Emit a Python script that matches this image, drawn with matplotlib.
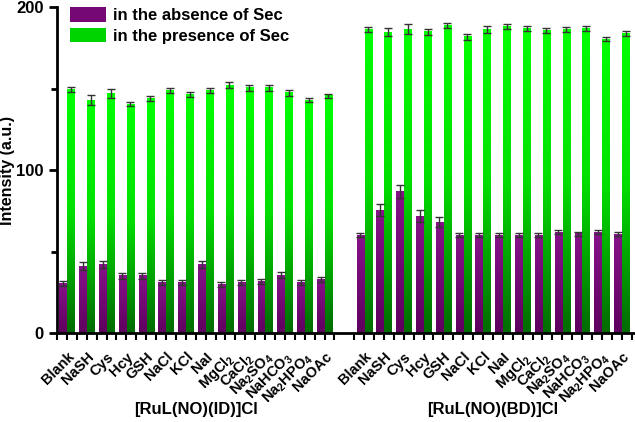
import numpy as np
import matplotlib
matplotlib.use("Agg")
import matplotlib.pyplot as plt
from matplotlib.colors import LinearSegmentedColormap
from matplotlib.patches import Rectangle

# === DATA ===
labels = ['Blank', 'NaSH', 'Cys', 'Hcy', 'GSH', 'NaCl', 'KCl', 'NaI',
          'MgCl$_2$', 'CaCl$_2$', 'Na$_2$SO$_4$', 'NaHCO$_3$',
          'Na$_2$HPO$_4$', 'NaOAc']
group_names = ['[RuL(NO)(ID)]Cl', '[RuL(NO)(BD)]Cl']

# [RuL(NO)(ID)]Cl
id_absence = [30.5, 41, 42, 35, 35, 31, 31, 42, 30, 31, 31.5, 35.5, 31, 33]
id_absence_err = [1.5, 2.5, 2, 2, 1.8, 1.5, 1.5, 2.2, 1.5, 1.5, 1.5, 1.8, 1.5, 1.5]
id_presence = [149.3, 143, 147, 140.5, 144, 149, 146.4, 148.7, 152, 150.5,
               150.5, 147.4, 143, 145.5]
id_presence_err = [1.5, 3, 2.5, 1.2, 1.5, 1.5, 1.5, 1.5, 1.8, 2, 1.8, 1.8, 1.2, 1.2]

# [RuL(NO)(BD)]Cl
bd_absence = [60, 75.5, 86.7, 71.8, 68, 60, 60, 60, 60, 60, 62, 61, 62, 60.7]
bd_absence_err = [1.2, 3.5, 4, 3.5, 3, 1.2, 1.2, 1.2, 1.2, 1.2, 1.5, 1.2, 1.5, 1.2]
bd_presence = [186.3, 184.5, 186.5, 185, 188.5, 181.8, 186.3, 188, 187.1,
               185.9, 186.3, 186.7, 180.2, 183.9]
bd_presence_err = [1.5, 2.5, 3, 1.8, 1.5, 2, 2.2, 1.5, 1.5, 1.5, 1.5, 1.5, 1.2, 1.5]

# === STYLE ===
plt.rcParams['font.family'] = ['Liberation Sans', 'DejaVu Sans']
plt.rcParams['font.weight'] = 'bold'
plt.rcParams['mathtext.fontset'] = 'custom'
plt.rcParams['mathtext.rm'] = 'Liberation Sans:bold'
plt.rcParams['mathtext.it'] = 'Liberation Sans:bold'
plt.rcParams['mathtext.bf'] = 'Liberation Sans:bold'
plt.rcParams['mathtext.default'] = 'rm'

purple_cmap = LinearSegmentedColormap.from_list('pur', ['#5e005e', '#87128a'])
green_cmap = LinearSegmentedColormap.from_list('grn', ['#006a00', '#00e000', '#00ff00'])
gradient = np.linspace(0, 1, 256).reshape(-1, 1)


def gradient_bar(ax, x, h, width, cmap):
    """Draw a bar filled with a vertical gradient (dark bottom, light top)."""
    ax.imshow(gradient, cmap=cmap, origin='lower', aspect='auto',
              extent=(x - width / 2, x + width / 2, 0, h), zorder=2,
              interpolation='bilinear')


fig = plt.figure(figsize=(6.35, 4.22), dpi=100)
ax = fig.add_axes([0.0898, 0.211, 0.908, 0.772])

n = len(labels)
centers = np.concatenate([np.arange(n), np.arange(n) + n + 1])
absence = id_absence + bd_absence
absence_err = id_absence_err + bd_absence_err
presence = id_presence + bd_presence
presence_err = id_presence_err + bd_presence_err

offset = 0.2
width = 0.36
for c, a, p in zip(centers, absence, presence):
    gradient_bar(ax, c - offset, a, width, purple_cmap)
    gradient_bar(ax, c + offset, p, width, green_cmap)

ax.errorbar(centers - offset, absence, yerr=absence_err, fmt='none',
            ecolor='#333333', elinewidth=1, capsize=3, capthick=1, zorder=3)
ax.errorbar(centers + offset, presence, yerr=presence_err, fmt='none',
            ecolor='#333333', elinewidth=1, capsize=3, capthick=1, zorder=3)

ax.set_xlim(-0.5, 28.6)
ax.set_ylim(0, 200)

# axes styling
for side in ['top', 'right']:
    ax.spines[side].set_visible(False)
for side in ['left', 'bottom']:
    ax.spines[side].set_linewidth(2)

ax.set_yticks([0, 100, 200])
ax.set_yticks([50, 150], minor=True)
ax.tick_params(axis='y', which='major', length=6, width=2, labelsize=12)
ax.tick_params(axis='y', which='minor', length=4, width=2)

ax.set_xticks(centers)
ax.set_xticklabels(labels * 2, rotation=45, ha='right', rotation_mode='anchor',
                   fontsize=10.5, fontweight='bold')
minor_x = [v + 0.5 for v in range(-1, 29) if v + 0.5 != 14.0]
ax.set_xticks(minor_x, minor=True)
ax.tick_params(axis='x', which='major', length=5, width=1.5, pad=7)
ax.tick_params(axis='x', which='minor', length=5, width=1.5)

ax.set_ylabel('Intensity (a.u.)', fontsize=11.5, fontweight='bold')
ax.yaxis.set_label_coords(-0.073, 0.5)

# group labels
for i, name in enumerate(group_names):
    mid = (n - 1) / 2 + i * (n + 1)
    ax.text(mid, -0.235, name, transform=ax.get_xaxis_transform(),
            ha='center', va='center', fontsize=12, fontweight='bold')

# legend
handles = [Rectangle((0, 0), 1, 1, facecolor='#760876'),
           Rectangle((0, 0), 1, 1, facecolor='#00d400')]
leg = ax.legend(handles, ['in the absence of Sec', 'in the presence of Sec'],
                loc='upper left', bbox_to_anchor=(0.0225, 1.0), frameon=False,
                borderaxespad=0, borderpad=0,
                prop={'weight': 'bold', 'size': 12}, handlelength=2.15,
                handleheight=1.0, handletextpad=0.45, labelspacing=0.25)

fig.savefig('out.png', dpi=100)
